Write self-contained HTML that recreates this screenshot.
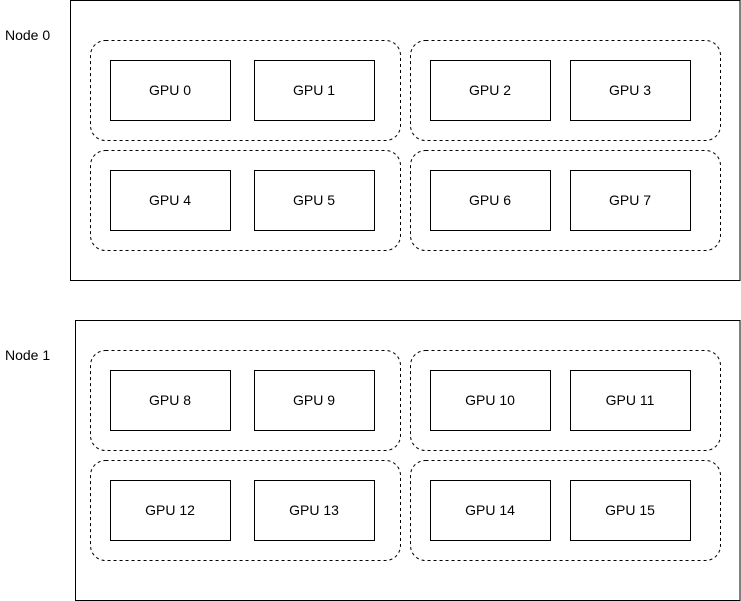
<!DOCTYPE html>
<html><head><meta charset="utf-8"><style>html,body{margin:0;padding:0;background:#fff}svg{display:block}text{font-family:"Liberation Sans",Arial,sans-serif;font-size:14px;fill:#000}</style></head>
<body>
<svg width="741" height="601" viewBox="0 0 741 601" xmlns="http://www.w3.org/2000/svg">
<g id="root"></g>
</svg>
<script>
const nodeLabels=["Node 0","Node 1"];
const gpuLabels=["GPU 0","GPU 1","GPU 2","GPU 3","GPU 4","GPU 5","GPU 6","GPU 7","GPU 8","GPU 9","GPU 10","GPU 11","GPU 12","GPU 13","GPU 14","GPU 15"];
const ns="http://www.w3.org/2000/svg";
const root=document.getElementById('root');
function mk(tag,attrs){const e=document.createElementNS(ns,tag);for(const k in attrs)e.setAttribute(k,attrs[k]);root.appendChild(e);return e;}
const nodeX=[70,75], nodeY=[0,320];
nodeLabels.forEach((lab,n)=>{
  const oy=nodeY[n];
  const r=mk('rect',{x:nodeX[n]+0.5,y:oy+0.5,width:740-nodeX[n]-0.5,height:280,fill:'none',stroke:'#000','stroke-width':1});
  
  
  const t=mk('text',{x:5,y:oy+40});t.textContent=lab;
  
  
  const gy=n===0?[40,150]:[350,460];
  for(let row=0;row<2;row++){
    for(let col=0;col<2;col++){
      const gx=col===0?90:410;
      const g=mk('rect',{x:gx+0.5,y:gy[row]+0.5,width:310,height:100,rx:15,ry:15,fill:'none',stroke:'#000','stroke-width':1,'stroke-dasharray':'3 3'});
      
      
      for(let k=0;k<2;k++){
        const bx=col===0?(k===0?110:254):(k===0?430:570);
        const by=gy[row]+20;
        const idx=n*8+row*4+col*2+k;
        const b=mk('rect',{x:bx+0.5,y:by+0.5,width:120,height:60,fill:'#fff',stroke:'#000','stroke-width':1});
        
        
        const tt=mk('text',{x:bx+60,y:by+35,'text-anchor':'middle'});tt.textContent=gpuLabels[idx];
        
        
      }
    }
  }
});
</script>
</body></html>
